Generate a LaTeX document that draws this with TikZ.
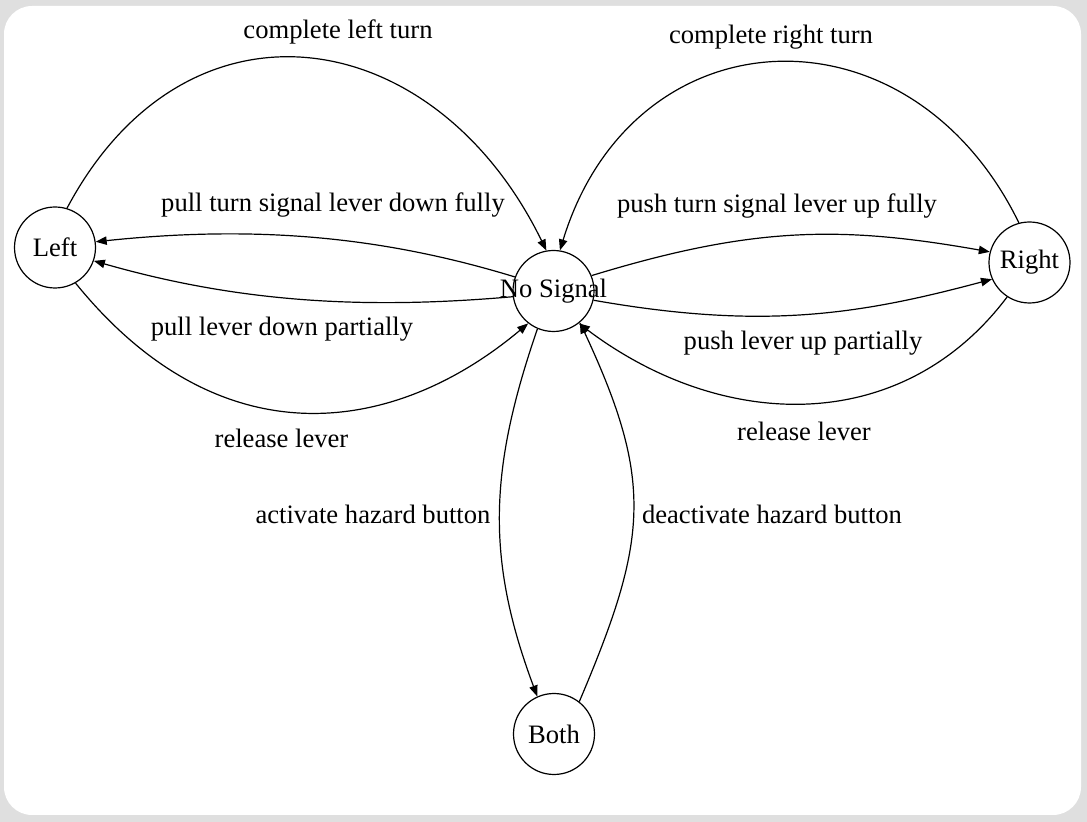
\documentclass[tikz,border=0pt]{standalone}
\usepackage{fontspec}
\setmainfont{Liberation Serif}
\usetikzlibrary{arrows.meta}

\begin{document}
\begin{tikzpicture}[x=0.5pt, y=0.5pt,
    font=\fontsize{13.3}{16}\selectfont,
    estado/.style={circle, draw, line width=0.6pt, minimum size=40.5pt, inner sep=0pt},
    rotulo/.style={inner sep=0pt},
    seta/.style={draw, line width=0.6pt, -{Triangle[length=5.5pt,width=4.2pt]}}]
            % Fundo
            \fill[gray!25] (0,0) rectangle (1087,-822);
            \fill[white, rounded corners=14pt] (4,-6) rectangle (1081,-815);
            \useasboundingbox (0,0) rectangle (1087,-822);
            % Estados
            \node at (55,-247.5) (esq) [estado] {Left};
            \node at (553.5,-291) (nenhum) [estado] {\makebox[0pt]{No Signal}};
            \node at (1029.5,-262.5) (dir) [estado] {Right};
            \node at (554,-734) (ambos) [estado] {Both};
            % Transicoes - lado esquerdo
            \draw[seta] (esq.73) .. controls +(62:255) and +(116:255) .. (nenhum.100);
            \draw[seta] (nenhum.160) .. controls +(163:140) and +(6:160) .. (esq.8);
            \draw[seta] (nenhum.188) .. controls +(185:150) and +(-16:150) .. (esq.341);
            \draw[seta] (esq.300) .. controls +(-51:230) and +(220:175) .. (nenhum.232);
            % Transicoes - lado direito
            \draw[seta] (nenhum.22) .. controls +(17:170) and +(170:150) .. (dir.165);
            \draw[seta] (nenhum.-13) .. controls +(-10:170) and +(195:140) .. (dir.204);
            \draw[seta] (dir.105) .. controls +(116:250) and +(73:250) .. (nenhum.81);
            \draw[seta] (dir.237) .. controls +(233:175) and +(323:180) .. (nenhum.308);
            % Transicoes - alerta
            \draw[seta] (nenhum.247) .. controls +(251:148) and +(110.5:148) .. (ambos.114);
            \draw[seta] (ambos.52) .. controls +(67:176) and +(295:176) .. (nenhum.310);
            % Rotulos
            \node at (338,-32) (r1) [rotulo] {complete left turn};
            \node at (333,-205) (r2) [rotulo] {pull turn signal lever down fully};
            \node at (282,-329) (r3) [rotulo] {pull lever down partially};
            \node at (281.5,-438) (r4) [rotulo] {release lever};
            \node at (771,-37) (r5) [rotulo] {complete right turn};
            \node at (777,-206) (r6) [rotulo] {push turn signal lever up fully};
            \node at (803,-343) (r7) [rotulo] {push lever up partially};
            \node at (804,-431) (r8) [rotulo] {release lever};
            \node at (373,-514) (r9) [rotulo] {activate hazard button};
            \node at (772,-514) (r10) [rotulo] {deactivate hazard button};
\end{tikzpicture}
\end{document}
